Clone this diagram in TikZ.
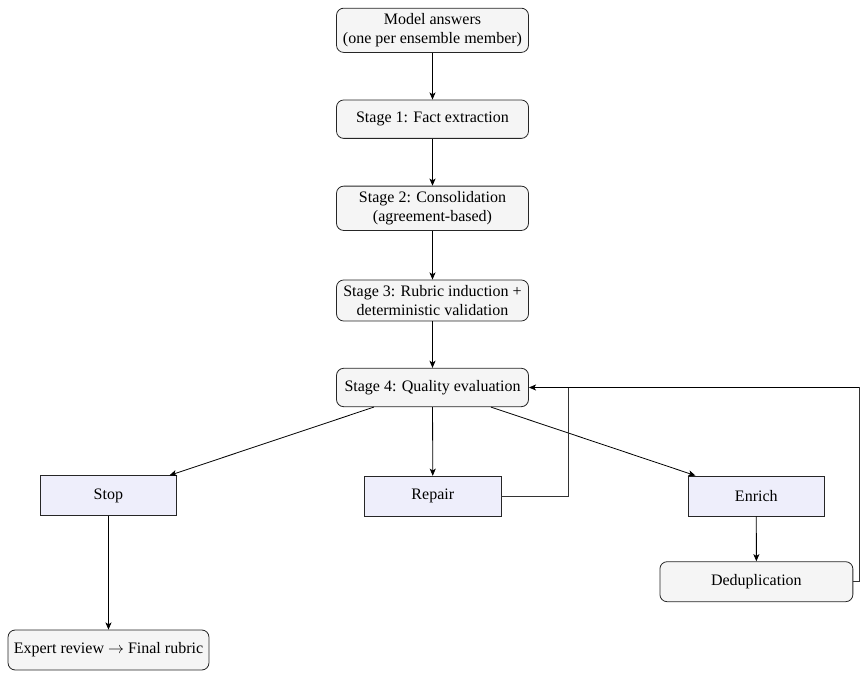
\documentclass[tikz,border=0pt]{standalone}
\usepackage{fontspec}
\setmainfont{Liberation Serif}
\usetikzlibrary{arrows.meta}
\definecolor{boxgray}{HTML}{F5F5F5}
\definecolor{boxblue}{HTML}{EEEEFB}
\begin{document}
\begin{tikzpicture}[x=0.625pt,y=-0.625pt,
  font=\fontsize{10pt}{12pt}\selectfont,
  roundbox/.style={draw=black!85, line width=0.5pt, fill=boxgray, rounded corners=4.5pt,
    align=center, minimum width=120pt, minimum height=24pt, inner sep=3.3pt},
  actbox/.style={draw=black!85, line width=0.5pt, fill=boxblue, align=center,
    minimum width=85.3pt, minimum height=25pt},
  arr/.style={draw, line width=0.5pt, -{Stealth[length=4.5pt,width=3.8pt,inset=1.2pt]}},
  fb/.style={draw, line width=0.5pt, draw=black!80}]
\useasboundingbox (0,0) rectangle (866,677);

\node[roundbox] (m) at (432.5,30.3) {Model answers\\(one per ensemble member)};
\node[roundbox] (s1) at (432.5,119.2) {Stage 1: Fact extraction};
\node[roundbox] (s2) at (432.5,208.3) {Stage 2: Consolidation\\(agreement-based)};
\node[roundbox] (s3) at (432.5,300.5) {Stage 3: Rubric induction +\\deterministic validation};
\node[roundbox] (s4) at (432.5,387.5) {Stage 4: Quality evaluation};

\node[actbox] (stop) at (108.4,495.8) {Stop};
\node[actbox] (repair) at (432.8,496.2) {Repair};
\node[actbox] (enrich) at (756.3,496) {Enrich};

\node[roundbox, minimum height=25pt, minimum width=120.6pt] (dedup) at (756.4,581.7) {Deduplication};
\node[roundbox, minimum height=25pt, minimum width=125.6pt] (expert) at (108.5,650) {Expert review $\rightarrow$ Final rubric};

\coordinate (rb) at (568.3,0);
\coordinate (db) at (859,0);

\draw[arr] (m) -- (s1);
\draw[arr] (s1) -- (s2);
\draw[arr] (s2) -- (s3);
\draw[arr] (s3) -- (s4);
\draw[arr] (s4) -- (stop);
\draw[arr] (s4) -- (repair);
\draw[arr] (s4) -- (enrich);
\draw[arr] (stop) -- (expert);
\draw[arr] (enrich) -- (dedup);

\draw[fb] (repair.east) -- (repair.east -| rb) -- (s4.east -| rb);
\draw[fb] (dedup.east) -- (dedup.east -| db) -- (s4.east -| db);
\draw[arr] (s4.east -| db) -- (s4.east);
\end{tikzpicture}
\end{document}
